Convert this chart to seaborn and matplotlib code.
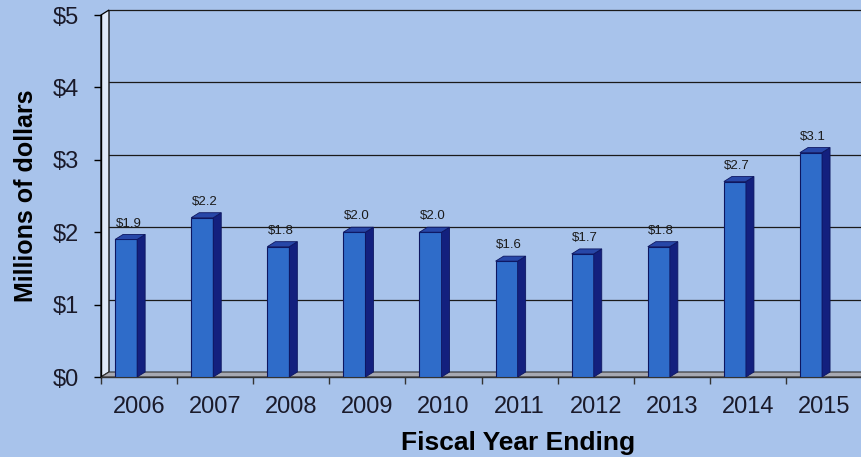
import matplotlib
matplotlib.use("Agg")
import matplotlib.pyplot as plt
import seaborn as sns
import pandas as pd
import numpy as np
from matplotlib.patches import Polygon

years = ["2006", "2007", "2008", "2009", "2010", "2011", "2012", "2013", "2014", "2015"]
values = [1.9, 2.2, 1.8, 2.0, 2.0, 1.6, 1.7, 1.8, 2.7, 3.1]
value_labels = ["$1.9", "$2.2", "$1.8", "$2.0", "$2.0", "$1.6", "$1.7", "$1.8", "$2.7", "$3.1"]
ytick_vals = [0, 1, 2, 3, 4, 5]
ytick_labels = ["$0", "$1", "$2", "$3", "$4", "$5"]

BG = "#a8c3eb"
FRONT = "#2f6cc9"
SIDE = "#13207e"
TOP = "#2747a8"
EDGE = "#0d1660"

sns.set_theme(style="white")
plt.rcParams["font.family"] = ["Liberation Sans", "DejaVu Sans"]

fig = plt.figure(figsize=(8.62, 4.57), dpi=100, facecolor=BG)
W, H = 862, 457
ax = fig.add_axes([101 / W, 80 / H, 761 / W, 362 / H])
ax.set_facecolor(BG)

df = pd.DataFrame({"year": years, "value": values})
sns.barplot(data=df, x="year", y="value", color=FRONT, width=0.29, saturation=1,
            edgecolor=EDGE, linewidth=0.8, ax=ax, zorder=3)

ax.set_xlim(-0.5, len(years) - 0.5)
ax.set_ylim(0, 5)

# depth offset (pseudo 3D): ~8 px right, ~5 px up
dx = 8 * (len(years)) / 761
dy = 5 * 5 / 362

# back wall / floor
xl, xr = -0.5, len(years) - 0.5
ax.add_patch(Polygon([(xl, 0), (xl + dx, dy), (xl + dx, 5 + dy), (xl, 5)], closed=True,
                     facecolor="#dfe9f8", edgecolor="black", linewidth=0.9, zorder=1, clip_on=False))
ax.add_patch(Polygon([(xl, 0), (xl + dx, dy), (xr + dx, dy), (xr, 0)], closed=True,
                     facecolor="#a7a9b2", edgecolor="#333333", linewidth=0.8, zorder=1, clip_on=False))
for yv in ytick_vals[1:]:
    ax.plot([xl + dx, xr + dx], [yv + dy, yv + dy], color="#1a1a1a", lw=0.9, zorder=1.5, clip_on=False)

# 3D faces for bars
for p, lab in zip(ax.patches[:len(values)], value_labels):
    p.set_x(p.get_x() - 0.17)
    x0 = p.get_x()
    x1 = x0 + p.get_width()
    h = p.get_height()
    ax.add_patch(Polygon([(x1, 0), (x1 + dx, dy), (x1 + dx, h + dy), (x1, h)], closed=True,
                         facecolor=SIDE, edgecolor=EDGE, linewidth=0.6, zorder=3))
    ax.add_patch(Polygon([(x0, h), (x0 + dx, h + dy), (x1 + dx, h + dy), (x1, h)], closed=True,
                         facecolor=TOP, edgecolor=EDGE, linewidth=0.6, zorder=3))
    ax.annotate(lab, ((x0 + x1) / 2 + 0.03, h), xytext=(0, 7), textcoords="offset points",
                ha="center", va="bottom", fontsize=9.5, color="#1a1a1a", zorder=5)

for s in ["top", "right"]:
    ax.spines[s].set_visible(False)
ax.spines["left"].set_color("black")
ax.spines["bottom"].set_color("#333333")
ax.spines["left"].set_linewidth(1)
ax.spines["bottom"].set_linewidth(1)

ax.set_yticks(ytick_vals)
ax.set_yticklabels(ytick_labels, fontsize=17, color="#1a1a2a")
ax.tick_params(axis="y", left=True, length=5, width=1, color="black", pad=11)
ax.set_xticks(range(len(years)))
ax.set_xticklabels(years, fontsize=17, color="#1a1a2a")
ax.set_xticks(np.arange(len(years) + 1) - 0.5, minor=True)
ax.tick_params(axis="x", which="major", bottom=False, length=0, pad=14)
ax.tick_params(axis="x", which="minor", bottom=True, length=5, width=1, color="#333333")

ax.set_xlabel("Fiscal Year Ending", fontsize=19, fontweight="bold", color="black")
ax.xaxis.set_label_coords((518 - 101) / 761, -0.15)
ax.set_ylabel("Millions of dollars", fontsize=18, fontweight="bold", color="black")
ax.yaxis.set_label_coords(-0.083, 0.5)

fig.savefig("out.png", dpi=100, facecolor=BG)
